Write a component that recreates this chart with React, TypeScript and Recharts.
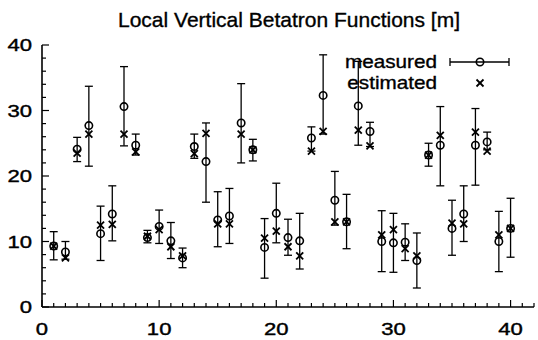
import { ScatterChart, Scatter, XAxis, YAxis, ErrorBar } from "recharts";

const FONT = '"Liberation Sans", Arial, Helvetica, sans-serif';

// monitor index 1..40
const positions = [
  1, 2, 3, 4, 5, 6, 7, 8, 9, 10, 11, 12, 13, 14, 15, 16, 17, 18, 19, 20,
  21, 22, 23, 24, 25, 26, 27, 28, 29, 30, 31, 32, 33, 34, 35, 36, 37, 38, 39, 40,
];

const measured = [
  9.3, 8.4, 24.1, 27.7, 11.2, 14.2, 30.6, 24.7, 10.6, 12.3, 10.1, 7.5, 24.5, 22.2,
  13.3, 13.9, 28.1, 24.0, 9.1, 14.3, 10.6, 10.1, 25.8, 32.3, 16.3, 13.0, 30.7, 26.8,
  10.0, 9.8, 9.9, 7.1, 23.2, 24.7, 12.0, 14.2, 24.7, 25.2, 10.0, 12.0,
];

const measuredLow = [
  7.2, 7.3, 22.2, 21.5, 7.1, 10.1, 24.6, 23.2, 9.8, 9.7, 7.4, 6.0, 22.7, 16.0,
  9.2, 9.7, 22.0, 22.3, 4.4, 9.8, 7.9, 5.8, 23.8, 26.4, 12.5, 8.9, 24.7, 24.5,
  5.4, 5.3, 7.1, 2.9, 21.5, 18.5, 7.9, 10.0, 18.6, 24.0, 5.4, 7.6,
];

const measuredHigh = [
  11.5, 10.0, 25.9, 33.7, 15.4, 18.5, 36.7, 26.4, 11.7, 14.8, 12.9, 9.0, 26.4, 28.1,
  17.6, 18.1, 34.1, 25.6, 13.5, 18.9, 13.4, 14.3, 27.5, 38.5, 20.7, 17.2, 37.5, 28.2,
  14.7, 14.3, 12.7, 11.3, 25.0, 30.6, 16.3, 18.5, 30.3, 26.7, 14.6, 16.6,
];

const estimated = [
  9.3, 7.5, 23.5, 26.4, 12.5, 12.6, 26.4, 23.7, 10.8, 11.8, 9.2, 7.8, 23.4, 26.5,
  12.7, 12.7, 26.4, 24.0, 10.5, 11.6, 9.2, 7.8, 23.8, 26.8, 13.0, 13.0, 27.0, 24.6,
  11.0, 11.8, 8.9, 7.8, 23.2, 26.2, 12.8, 12.7, 26.7, 23.8, 11.0, 12.0,
];

const xTicks = Array.from({ length: 43 }, (_, i) => i);
const yTicks = [0, 2, 4, 6, 8, 10, 12, 14, 16, 18, 20, 22, 24, 26, 28, 30, 32, 34, 36, 38, 40];

const measuredData = positions.map((x, i) => ({
  x,
  y: measured[i],
  err: [measured[i] - measuredLow[i], measuredHigh[i] - measured[i]],
}));
const estimatedData = positions.map((x, i) => ({ x, y: estimated[i] }));

const Circle = (p: any) => (
  <circle cx={p.cx} cy={p.cy} r={3.7} fill="none" stroke="#000" strokeWidth={1.6} />
);

const Cross = (p: any) => (
  <g stroke="#000" strokeWidth={1.8}>
    <line x1={p.cx - 3.5} y1={p.cy - 3.5} x2={p.cx + 3.5} y2={p.cy + 3.5} />
    <line x1={p.cx - 3.5} y1={p.cy + 3.5} x2={p.cx + 3.5} y2={p.cy - 3.5} />
  </g>
);

// tick labels in the scan are a bit wide, so stretch them horizontally
const Label = ({ x, y, anchor, value }: any) => (
  <text
    transform={`translate(${x},${y}) scale(1.3,1)`}
    textAnchor={anchor}
    fontFamily={FONT}
    fontSize={17}
    fill="#000"
    stroke="#000"
    strokeWidth={0.4}
  >
    {value}
  </text>
);

// gnuplot style inward ticks
const BottomTick = ({ x, y, payload }: any) => {
  const major = payload.value % 10 === 0;
  return (
    <g>
      <line x1={x} x2={x} y1={y} y2={y - (major ? 7 : 4)} stroke="#000" strokeWidth={1.2} />
      {major && <Label x={x} y={y + 28} anchor="middle" value={payload.value} />}
    </g>
  );
};

const TopTick = ({ x, y, payload }: any) => {
  const major = payload.value % 10 === 0;
  return <line x1={x} x2={x} y1={y} y2={y + (major ? 7 : 4)} stroke="#000" strokeWidth={1.2} />;
};

const LeftTick = ({ x, y, payload }: any) => {
  const major = payload.value % 10 === 0;
  return (
    <g>
      <line x1={x} x2={x + (major ? 7 : 4)} y1={y} y2={y} stroke="#000" strokeWidth={1.2} />
      {major && <Label x={x - 10} y={y + 6} anchor="end" value={payload.value} />}
    </g>
  );
};

const RightTick = ({ x, y, payload }: any) => {
  const major = payload.value % 10 === 0;
  return <line x1={x} x2={x - (major ? 7 : 4)} y1={y} y2={y} stroke="#000" strokeWidth={1.2} />;
};

const KeyText = ({ y, children }: any) => (
  <text
    transform={`translate(437,${y}) scale(1.15,1)`}
    textAnchor="end"
    fontFamily={FONT}
    fontSize={18}
    fill="#000"
    stroke="#000"
    strokeWidth={0.35}
  >
    {children}
  </text>
);

export default function App() {
  return (
    <div style={{ position: "absolute", left: 0, top: 0, width: 538, height: 340, background: "#fff" }}>
      <ScatterChart width={538} height={340} margin={{ top: 45, right: 4, bottom: 0, left: 0 }}>
        <XAxis
          type="number"
          dataKey="x"
          domain={[0, 42]}
          ticks={xTicks}
          interval={0}
          height={33}
          tickSize={0}
          tickMargin={0}
          tickLine={false}
          tick={<BottomTick />}
          axisLine={{ stroke: "#000", strokeWidth: 1.6 }}
        />
        <XAxis
          xAxisId="top"
          orientation="top"
          type="number"
          dataKey="x"
          domain={[0, 42]}
          ticks={xTicks}
          interval={0}
          height={0}
          tickSize={0}
          tickMargin={0}
          tickLine={false}
          tick={<TopTick />}
          axisLine={{ stroke: "#000", strokeWidth: 1.6 }}
        />
        <YAxis
          type="number"
          dataKey="y"
          domain={[0, 40]}
          ticks={yTicks}
          interval={0}
          width={42}
          tickSize={0}
          tickMargin={0}
          tickLine={false}
          tick={<LeftTick />}
          axisLine={{ stroke: "#000", strokeWidth: 1.6 }}
        />
        <YAxis
          yAxisId="right"
          orientation="right"
          type="number"
          dataKey="y"
          domain={[0, 40]}
          ticks={yTicks}
          interval={0}
          width={0}
          tickSize={0}
          tickMargin={0}
          tickLine={false}
          tick={<RightTick />}
          axisLine={{ stroke: "#000", strokeWidth: 1.6 }}
        />
        <Scatter name="measured" data={measuredData} shape={Circle} isAnimationActive={false}>
          <ErrorBar dataKey="err" direction="y" width={4} stroke="#000" strokeWidth={1.3} />
        </Scatter>
        <Scatter name="estimated" data={estimatedData} shape={Cross} isAnimationActive={false} />
      </ScatterChart>
      <svg
        width={538}
        height={340}
        style={{ position: "absolute", left: 0, top: 0, pointerEvents: "none" }}
      >
        <text
          x={289}
          y={27}
          textAnchor="middle"
          fontFamily={FONT}
          fontSize={21}
          fill="#000"
          stroke="#000"
          strokeWidth={0.35}
        >
          Local Vertical Betatron Functions [m]
        </text>
        <KeyText y={68}>measured</KeyText>
        <KeyText y={89}>estimated</KeyText>
        <g stroke="#000" strokeWidth={1.3}>
          <line x1={450} x2={509} y1={62} y2={62} />
          <line x1={450} x2={450} y1={58} y2={66} />
          <line x1={509} x2={509} y1={58} y2={66} />
        </g>
        <Circle cx={480} cy={62} />
        <Cross cx={480} cy={83} />
      </svg>
    </div>
  );
}
